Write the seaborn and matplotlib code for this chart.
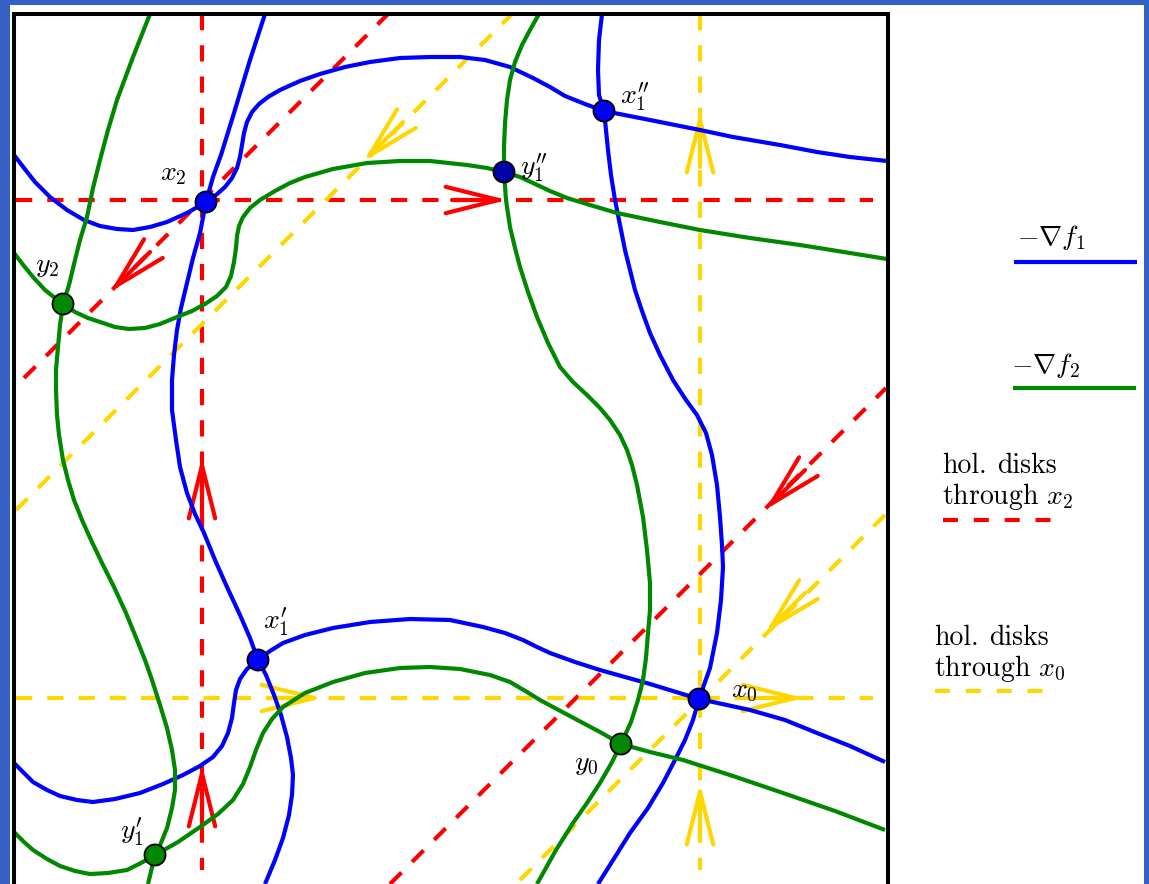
import matplotlib
matplotlib.use("Agg")
import matplotlib.pyplot as plt
import seaborn as sns
import pandas as pd
from matplotlib.patches import Rectangle

plt.rcParams['mathtext.fontset'] = 'cm'

# ---------------- data (pixel coordinates) ----------------
# blue curves (-grad f1)
b1_x = [265, 250, 234, 221, 213, 206, 200, 193, 187, 181, 177, 174, 172, 172, 176, 180, 187, 195, 204, 215, 227, 240, 250, 258,
        266, 274, 281, 287, 291, 293, 292, 289, 283, 275, 265]
b1_y = [14, 60, 113, 155, 177, 202, 233, 258, 283, 308, 330, 355, 380, 410, 440, 467, 493, 514, 533, 560, 587, 615, 638, 660,
        675, 695, 715, 737, 758, 775, 795, 815, 838, 860, 884]
b2_x = [14, 24, 35, 50, 67, 84, 100, 117, 133, 150, 167, 187, 206, 216, 225, 232, 237, 240, 242, 244, 247, 252, 259, 268, 280,
        300, 320, 345, 370, 400, 430, 460, 485, 510, 533, 550, 565, 585, 604, 650, 700, 733, 780, 817, 850, 887]
b2_y = [155, 168, 182, 197, 210, 220, 226, 229, 230, 227, 222, 213, 202, 195, 187, 178, 168, 157, 145, 133, 122, 112, 104, 97, 90,
        81, 74, 67, 62, 58, 57, 57, 60, 67, 78, 87, 96, 104, 111, 120, 130, 137, 145, 152, 157, 161]
b3_x = [602, 599, 598, 599, 604, 606, 608, 611, 615, 620, 625, 630, 635, 642, 650, 660, 673, 686, 697, 706, 712, 717, 720, 722,
        723, 721, 717, 710, 699, 693, 685, 675, 663, 648, 630, 615, 598]
b3_y = [14, 40, 70, 95, 111, 130, 150, 175, 200, 225, 250, 270, 290, 311, 333, 355, 380, 400, 415, 433, 455, 485, 517, 545,
        567, 600, 633, 668, 699, 720, 740, 760, 783, 808, 833, 857, 884]
b4_x = [14, 24, 33, 47, 60, 77, 93, 115, 140, 163, 183, 200, 213, 222, 228, 232, 234, 236, 240, 247, 258, 270, 283, 305, 333,
        370, 410, 450, 483, 505, 523, 537, 550, 575, 600, 650, 699, 750, 785, 817, 850, 885]
b4_y = [763, 773, 782, 790, 796, 800, 802, 799, 793, 784, 775, 766, 757, 746, 733, 718, 703, 690, 679, 669, 660, 651, 643, 635, 628,
        622, 619, 620, 627, 633, 640, 647, 653, 662, 670, 684, 699, 710, 720, 733, 746, 762]

# green curves (-grad f2)
g1_x = [150, 133, 117, 108, 100, 93, 87, 80, 75, 69, 63, 60, 58, 56, 56, 57, 59, 63, 68, 74, 82, 91, 102, 114, 126, 137, 145, 152,
        160, 167, 172, 175, 175, 172, 167, 161, 155, 148]
g1_y = [14, 57, 100, 130, 160, 188, 217, 240, 260, 285, 304, 325, 347, 370, 390, 415, 435, 460, 480, 500, 520, 540, 563, 587,
        613, 640, 660, 680, 705, 728, 750, 770, 790, 808, 828, 843, 855, 884]
g2_x = [14, 24, 33, 45, 55, 63, 75, 88, 100, 115, 129, 145, 160, 177, 192, 205, 217, 226, 231, 234, 236, 237, 239, 243, 250, 260,
        275, 290, 305, 333, 367, 400, 430, 467, 487, 504, 520, 533, 550, 567, 590, 617, 660, 700, 750, 800, 850, 887]
g2_y = [253, 266, 277, 290, 298, 304, 312, 318, 322, 327, 329, 328, 324, 317, 311, 304, 296, 287, 276, 262, 248, 236, 226, 217, 208,
        200, 191, 183, 177, 169, 163, 161, 161, 165, 168, 172, 177, 183, 191, 198, 205, 213, 222, 230, 238, 245, 253, 259]
g3_x = [539, 530, 522, 515, 510, 507, 505, 504, 504, 506, 510, 515, 520, 528, 537, 548, 560, 573, 587, 600, 610, 620, 627, 632,
        637, 643, 647, 650, 650, 648, 646, 643, 638, 631, 621, 611, 600, 587, 573, 556, 537]
g3_y = [14, 30, 45, 62, 80, 100, 123, 147, 172, 200, 227, 248, 267, 292, 317, 343, 367, 382, 395, 408, 420, 435, 450, 465,
        485, 517, 550, 583, 610, 633, 658, 680, 700, 722, 744, 764, 783, 803, 823, 850, 884]
g4_x = [14, 24, 33, 47, 60, 75, 90, 108, 127, 141, 155, 178, 200, 218, 233, 243, 250, 256, 263, 272, 283, 305, 333, 365, 400,
        430, 460, 490, 510, 527, 540, 553, 568, 583, 600, 621, 650, 683, 733, 783, 835, 885]
g4_y = [832, 842, 850, 859, 866, 871, 874, 873, 870, 863, 855, 842, 827, 814, 800, 784, 767, 750, 733, 719, 707, 693, 682, 673, 668,
        667, 669, 675, 682, 692, 700, 707, 715, 723, 732, 744, 752, 760, 776, 793, 811, 830]

# dashed lines: holomorphic disks
red_dash_x = [[16, 873], [202, 202], [24, 388], [390, 886]]
red_dash_y = [[200, 200], [14, 870], [378, 14], [884, 388]]
gold_dash_x = [[16, 873], [700, 700], [16, 512], [520, 886]]
gold_dash_y = [[698, 698], [14, 870], [510, 14], [880, 514]]

# arrowheads on dashed lines
red_tip_x = [507, 202, 202, 110, 765]
red_tip_y = [200, 457, 765, 292, 510]
red_tail_x = [452, 202, 202, 150, 805]
red_tail_y = [200, 527, 825, 252, 470]
gold_tip_x = [363, 765, 804, 323, 700, 700]
gold_tip_y = [162, 633, 698, 698, 111, 783]
gold_tail_x = [403, 805, 748, 268, 700, 700]
gold_tail_y = [122, 593, 698, 698, 167, 838]

# critical points
pt_names = ["x2", "y2", "x1pp", "y1pp", "x1p", "y1p", "x0", "y0"]
pt_x = [206, 63, 604, 504, 258, 155, 699, 621]
pt_y = [202, 304, 111, 172, 660, 855, 699, 744]
pt_colors = ["#0000FF", "#008800", "#0000FF", "#0000A8", "#0000FF", "#008800", "#0000FF", "#008800"]
pt_labels = [r"$x_2$", r"$y_2$", r"$x_1^{\prime\prime}$", r"$y_1^{\prime\prime}$",
             r"$x_1^{\prime}$", r"$y_1^{\prime}$", r"$x_0$", r"$y_0$"]
lab_x = [173, 47, 635, 534, 276, 132, 744, 586]
lab_y = [173, 265, 97, 168, 622, 832, 690, 763]

# legend entries
leg_grad_labels = [r"$-\nabla f_1$", r"$-\nabla f_2$"]
leg_word_a = ["hol.", "hol."]
leg_word_b = ["disks", "disks"]
leg_disk_line2 = [r"through $x_2$", r"through $x_0$"]

# ---------------- styles ----------------
BLUE = "#0000FF"
GREEN = "#008800"
RED = "#FF0000"
GOLD = "#FFD700"
FRAME = "#3560C6"
LW = 3.0

fig = plt.figure(figsize=(11.49, 8.84), dpi=100)
fig.patch.set_facecolor(FRAME)
ax = fig.add_axes([0, 0, 1, 1])
ax.set_facecolor(FRAME)
ax.add_patch(Rectangle((10, 5), 1134, 900, facecolor="white", edgecolor="none", zorder=0))

# dashed lines
for xs, ys in zip(red_dash_x, red_dash_y):
    ax.plot(xs, ys, color=RED, lw=LW, dashes=(3.9, 3.6), zorder=2)
for xs, ys in zip(gold_dash_x, gold_dash_y):
    ax.plot(xs, ys, color=GOLD, lw=LW, dashes=(3.9, 3.6), zorder=2)

# arrows
def arrows(tx, ty, sx, sy, col):
    for a, b, c, d in zip(tx, ty, sx, sy):
        ax.annotate("", xy=(a, b), xytext=(c, d), xycoords="data", textcoords="data",
                    arrowprops=dict(arrowstyle="->,head_length=3.8,head_width=0.95",
                                    lw=LW, color=col, shrinkA=0, shrinkB=0,
                                    mutation_scale=10), zorder=2.5)
arrows(red_tip_x, red_tip_y, red_tail_x, red_tail_y, RED)
arrows(gold_tip_x, gold_tip_y, gold_tail_x, gold_tail_y, GOLD)

# gradient flow lines
for xs, ys, col in [(b1_x, b1_y, BLUE), (b2_x, b2_y, BLUE), (b3_x, b3_y, BLUE), (b4_x, b4_y, BLUE),
                    (g1_x, g1_y, GREEN), (g2_x, g2_y, GREEN), (g3_x, g3_y, GREEN), (g4_x, g4_y, GREEN)]:
    df = pd.DataFrame({"x": xs, "y": ys})
    sns.lineplot(data=df, x="x", y="y", sort=False, estimator=None, color=col, lw=LW,
                 ax=ax, zorder=3, solid_capstyle="butt", solid_joinstyle="round")

# square frame
ax.plot([14, 14, 888, 888], [895, 14, 14, 895], color="black", lw=2.9, zorder=4,
        solid_joinstyle="miter", solid_capstyle="projecting")

# critical points
dfp = pd.DataFrame({"x": pt_x, "y": pt_y, "name": pt_names})
sns.scatterplot(data=dfp, x="x", y="y", hue="name", palette=dict(zip(pt_names, pt_colors)),
                s=230, edgecolor="black", linewidth=1.3, legend=False, ax=ax, zorder=5)
for t, x, y in zip(pt_labels, lab_x, lab_y):
    ax.text(x, y, t, fontsize=20, ha="center", va="center", zorder=6)

# legend (drawn by hand)
ax.text(1017, 245, leg_grad_labels[0], fontsize=20, ha="left", va="baseline")
ax.plot([1014, 1137], [262, 262], color=BLUE, lw=LW, solid_capstyle="butt")
ax.text(1011, 373, leg_grad_labels[1], fontsize=20, ha="left", va="baseline")
ax.plot([1013, 1136], [388, 388], color=GREEN, lw=LW, solid_capstyle="butt")

ax.text(942, 473, leg_word_a[0], fontsize=20, family="cmr10", ha="left", va="baseline")
ax.text(997, 473, leg_word_b[0], fontsize=20, family="cmr10", ha="left", va="baseline")
ax.text(942, 504, leg_disk_line2[0], fontsize=20, family="cmr10", ha="left", va="baseline")
ax.plot([943, 1052], [520, 520], color=RED, lw=LW, dashes=(3.6, 3.8))

ax.text(934, 645, leg_word_a[1], fontsize=20, family="cmr10", ha="left", va="baseline")
ax.text(989, 645, leg_word_b[1], fontsize=20, family="cmr10", ha="left", va="baseline")
ax.text(934, 676, leg_disk_line2[1], fontsize=20, family="cmr10", ha="left", va="baseline")
ax.plot([935, 1044], [691, 691], color=GOLD, lw=LW, dashes=(3.6, 3.8))

ax.set_xlim(0, 1149)
ax.set_ylim(884, 0)
ax.axis("off")
fig.savefig("out.png", dpi=100, facecolor=fig.get_facecolor())
